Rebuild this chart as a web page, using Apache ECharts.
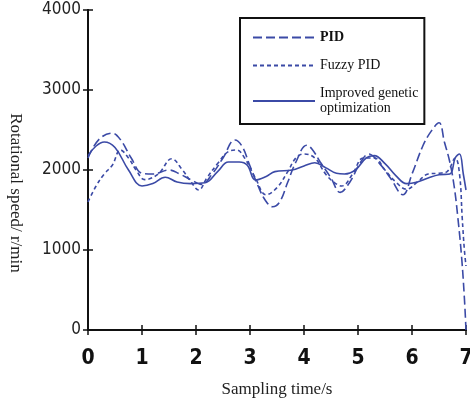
<!DOCTYPE html>
<html><head><meta charset="utf-8">
<script src="https://cdn.jsdelivr.net/npm/echarts@6/dist/echarts.min.js"></script>
<style>html,body{margin:0;padding:0;background:#fff}#c{width:470px;height:403px}</style>
</head><body><div id="c"></div>
<script>
const seriesNames = ['PID', 'Fuzzy PID', 'Improved genetic optimization'];
const xTicks = [0, 1, 2, 3, 4, 5, 6, 7];
const yTicks = [0, 1000, 2000, 3000, 4000];

const pidT = [0,0.2,0.45,0.6,0.8,1.0,1.2,1.5,1.7,1.9,2.1,2.3,2.5,2.72,2.85,3.0,3.15,3.28,3.42,3.55,3.7,3.85,4.05,4.15,4.3,4.5,4.67,4.85,5.05,5.2,5.4,5.6,5.83,6.0,6.2,6.35,6.5,6.6,6.7,6.78,6.85,6.92,6.97,7.0];
const pidV = [2150,2380,2460,2380,2150,1960,1950,2000,1950,1880,1820,1950,2150,2375,2300,2050,1800,1625,1540,1600,1850,2100,2310,2260,2100,1900,1720,1850,2100,2200,2080,1900,1690,1950,2300,2480,2590,2350,2100,1800,1400,900,400,0];

const fuzT = [0,0.15,0.3,0.45,0.6,0.75,0.9,1.05,1.3,1.55,1.75,1.9,2.05,2.2,2.4,2.6,2.75,2.9,3.1,3.3,3.5,3.7,3.85,4.0,4.2,4.4,4.55,4.7,4.9,5.1,5.3,5.5,5.7,5.9,6.1,6.3,6.5,6.65,6.8,6.88,6.93,6.97,7.0];
const fuzV = [1600,1800,1950,2060,2250,2150,1990,1880,1950,2140,2000,1860,1750,1900,2080,2230,2250,2150,1900,1690,1780,1980,2150,2200,2150,1950,1850,1800,1950,2150,2150,2000,1850,1760,1850,1950,1960,1980,2150,1950,1400,1000,800];

const impT = [0,0.15,0.3,0.5,0.75,1.0,1.2,1.43,1.65,1.9,2.17,2.4,2.6,2.8,2.95,3.1,3.3,3.46,3.78,4.0,4.2,4.4,4.6,4.75,4.95,5.15,5.3,5.5,5.7,5.9,6.1,6.3,6.5,6.7,6.8,6.88,6.95,7.0];
const impV = [2180,2300,2350,2280,2000,1800,1830,1910,1850,1830,1840,1980,2100,2100,2060,1875,1920,1980,2000,2050,2090,2030,1960,1950,2000,2150,2180,2080,1930,1830,1850,1900,1940,1950,2150,2200,1950,1750];

const pair = (t, v) => t.map((x, i) => [x, v[i]]);
const lineColor = '#3b4aa6';

const chart = echarts.init(document.getElementById('c'));
chart.setOption({
  animation: false,
  backgroundColor: '#fff',
  grid: { left: 88, right: 4, top: 10, bottom: 73, containLabel: false, outerBoundsMode: 'none' },
  legend: {
    orient: 'vertical', left: 240, top: 18,
    padding: [12, 6, 8, 12],
    borderColor: '#111', borderWidth: 2,
    backgroundColor: '#fff',
    itemWidth: 62, itemHeight: 12, itemGap: 13,
    itemStyle: { opacity: 0 },
    data: seriesNames,
    formatter: n => n === 'PID' ? '{b|PID}' : (n === 'Fuzzy PID' ? 'Fuzzy PID' : 'Improved genetic\noptimization'),
    textStyle: {
      fontFamily: 'Liberation Serif', fontSize: 14, color: '#111', lineHeight: 15,
      rich: { b: { fontFamily: 'Liberation Serif', fontWeight: 'bold', fontSize: 14, color: '#111', lineHeight: 15 } }
    }
  },
  xAxis: [{
    type: 'value', min: 0, max: 7, interval: 1,
    name: 'Sampling time/s', nameLocation: 'middle', nameGap: 51,
    nameTextStyle: { fontFamily: 'Liberation Serif', fontSize: 17, color: '#222' },
    axisLine: { lineStyle: { color: '#111', width: 2 } },
    axisTick: { inside: true, length: 5, lineStyle: { color: '#111', width: 1.5 } },
    axisLabel: { fontFamily: 'DejaVu Sans Condensed', fontWeight: 'bold', color: '#111', fontSize: 21, margin: 18,
      formatter: v => xTicks.includes(v) ? String(v) : '' },
    splitLine: { show: false }
  }, {
    type: 'value', min: 0, max: 7, interval: 1, position: 'top',
    axisLine: { lineStyle: { color: '#111', width: 2 } },
    axisTick: { inside: true, length: 5, lineStyle: { color: '#111', width: 1.5 } },
    axisLabel: { show: false }, splitLine: { show: false }
  }],
  yAxis: [{
    type: 'value', min: 0, max: 4000, interval: 1000,
    name: 'Rotational speed/ r/min', nameLocation: 'middle', nameGap: 64, nameRotate: -90,
    nameTextStyle: { fontFamily: 'Liberation Serif', fontSize: 17, color: '#222', padding: [0, 0, 0, 46] },
    axisLine: { show: true, lineStyle: { color: '#111', width: 2 } },
    axisTick: { show: true, inside: true, length: 5, lineStyle: { color: '#111', width: 1.5 } },
    axisLabel: { fontFamily: 'DejaVu Sans Condensed', color: '#222', fontSize: 17, margin: 7,
      formatter: v => yTicks.includes(v) ? String(v) : '' },
    splitLine: { show: false }
  }, {
    type: 'value', min: 0, max: 4000, interval: 1000, position: 'right',
    axisLine: { show: true, lineStyle: { color: '#111', width: 2 } },
    axisTick: { show: true, inside: true, length: 5, lineStyle: { color: '#111', width: 1.5 } },
    axisLabel: { show: false }, splitLine: { show: false }
  }],
  series: [
    { name: seriesNames[0], type: 'line', smooth: 0.4, symbol: 'none', data: pair(pidT, pidV),
      lineStyle: { color: lineColor, width: 1.6, type: [9, 4] }, itemStyle: { color: lineColor } },
    { name: seriesNames[1], type: 'line', smooth: 0.4, symbol: 'none', data: pair(fuzT, fuzV),
      lineStyle: { color: lineColor, width: 1.6, type: [4, 3] }, itemStyle: { color: lineColor } },
    { name: seriesNames[2], type: 'line', smooth: 0.4, symbol: 'none', data: pair(impT, impV),
      lineStyle: { color: lineColor, width: 1.6 }, itemStyle: { color: lineColor } }
  ]
});
</script></body></html>
